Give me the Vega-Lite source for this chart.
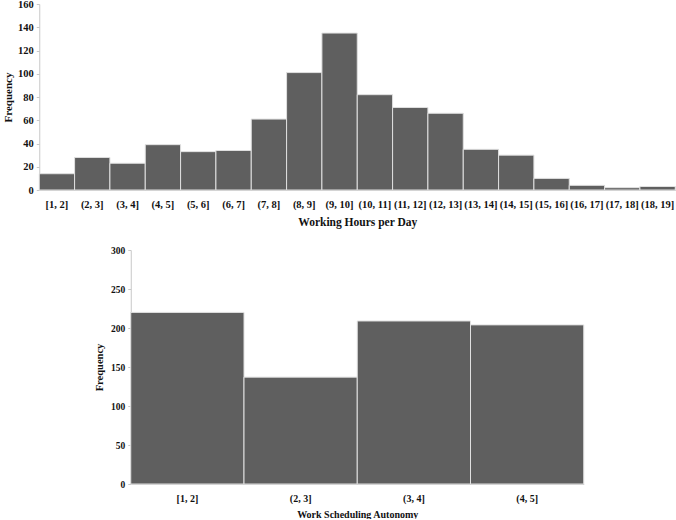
{
  "$schema": "https://vega.github.io/schema/vega-lite/v6.json",
  "padding": {"left": 2, "top": -1, "right": 1, "bottom": 0},
  "background": "white",
  "config": {
    "view": {"stroke": null},
    "font": "Liberation Serif",
    "axis": {
      "labelFont": "Liberation Serif",
      "titleFont": "Liberation Serif",
      "labelColor": "#111111",
      "titleColor": "#111111",
      "labelFontWeight": "bold",
      "titleFontWeight": "bold",
      "domainColor": "#c8c8c8",
      "tickColor": "#c8c8c8",
      "grid": false
    }
  },
  "datasets": {
    "hours": [
      {"bin": "[1, 2]", "freq": 14},
      {"bin": "(2, 3]", "freq": 28},
      {"bin": "(3, 4]", "freq": 23},
      {"bin": "(4, 5]", "freq": 39},
      {"bin": "(5, 6]", "freq": 33},
      {"bin": "(6, 7]", "freq": 34},
      {"bin": "(7, 8]", "freq": 61},
      {"bin": "(8, 9]", "freq": 101},
      {"bin": "(9, 10]", "freq": 135},
      {"bin": "(10, 11]", "freq": 82},
      {"bin": "(11, 12]", "freq": 71},
      {"bin": "(12, 13]", "freq": 66},
      {"bin": "(13, 14]", "freq": 35},
      {"bin": "(14, 15]", "freq": 30},
      {"bin": "(15, 16]", "freq": 10},
      {"bin": "(16, 17]", "freq": 4},
      {"bin": "(17, 18]", "freq": 2},
      {"bin": "(18, 19]", "freq": 3}
    ],
    "autonomy": [
      {"bin": "[1, 2]", "freq": 220},
      {"bin": "(2, 3]", "freq": 137},
      {"bin": "(3, 4]", "freq": 209},
      {"bin": "(4, 5]", "freq": 204}
    ]
  },
  "vconcat": [
    {
      "width": 636,
      "height": 186,
      "data": {"name": "hours"},
      "mark": {"type": "bar", "color": "#5f5f5f", "stroke": "#e0e0e0", "strokeWidth": 1},
      "encoding": {
        "x": {
          "field": "bin", "type": "nominal", "sort": null,
          "scale": {"paddingInner": 0, "paddingOuter": 0},
          "axis": {"title": "Working Hours per Day", "labelAngle": 0, "ticks": false, "labelPadding": 9, "labelFontSize": 10.5, "titleFontSize": 11.5, "titlePadding": 7}
        },
        "y": {
          "field": "freq", "type": "quantitative",
          "scale": {"domain": [0, 160], "nice": false},
          "axis": {"title": "Frequency", "values": [0, 20, 40, 60, 80, 100, 120, 140, 160], "tickSize": 3, "labelPadding": 3, "labelFontSize": 10.5, "titleFontSize": 11, "titlePadding": 4}
        }
      }
    },
    {
      "width": 453,
      "height": 234,
      "data": {"name": "autonomy"},
      "mark": {"type": "bar", "color": "#5f5f5f", "stroke": "#e0e0e0", "strokeWidth": 1},
      "encoding": {
        "x": {
          "field": "bin", "type": "nominal", "sort": null,
          "scale": {"paddingInner": 0, "paddingOuter": 0},
          "axis": {"title": "Work Scheduling Autonomy", "labelAngle": 0, "ticks": false, "labelPadding": 9, "labelFontSize": 10, "titleFontSize": 10, "titlePadding": 6}
        },
        "y": {
          "field": "freq", "type": "quantitative",
          "scale": {"domain": [0, 300], "nice": false},
          "axis": {"title": "Frequency", "values": [0, 50, 100, 150, 200, 250, 300], "tickSize": 3, "labelPadding": 3, "labelFontSize": 9.5, "titleFontSize": 10.5, "titlePadding": 6}
        }
      }
    }
  ],
  "align": {"row": "none", "column": "all"},
  "center": true,
  "spacing": 17
}
